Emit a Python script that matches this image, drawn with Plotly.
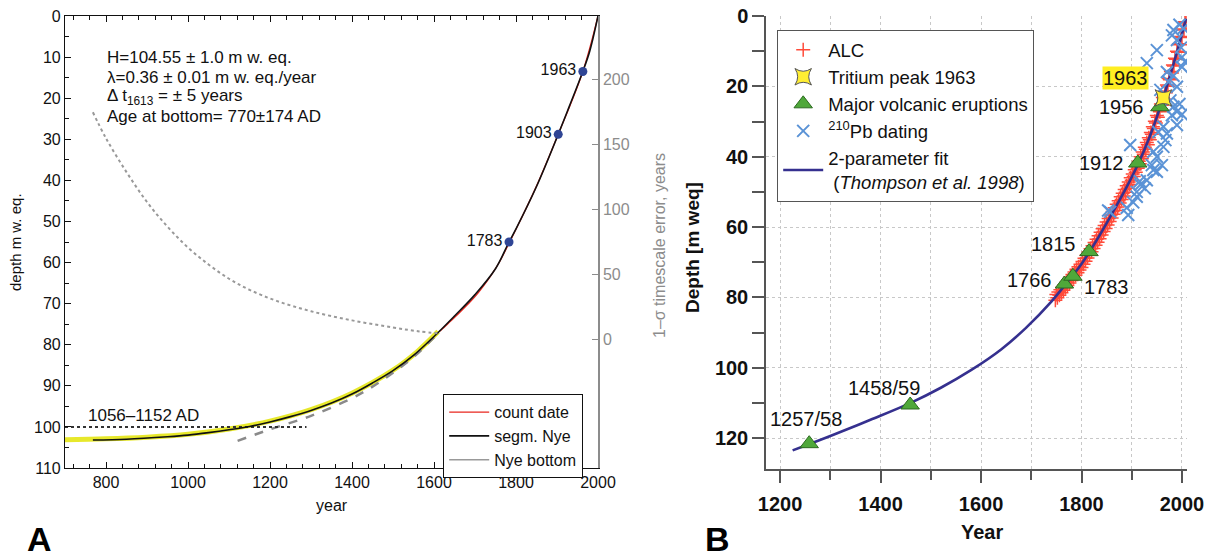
import plotly.graph_objects as go

# ---------------- Panel A data ----------------
nye_year = [768, 850, 950, 1000, 1050, 1100, 1150, 1200, 1250, 1300, 1350, 1400, 1450, 1500, 1550,
            1600, 1650, 1700, 1750, 1783, 1800, 1850, 1903, 1930, 1963, 1980, 2000]
nye_depth = [103.2, 103.0, 102.4, 102.0, 101.4, 100.7, 99.9, 98.8, 97.5, 96.0, 94.2, 92.0, 89.3, 86.3, 82.6,
             78.0, 73.0, 67.8, 61.5, 55.0, 51.8, 41.5, 28.8, 22.0, 13.5, 8.5, 0.0]

count_year = [1613, 1620, 1640, 1660, 1680, 1700, 1720, 1740, 1760, 1783, 1800, 1850, 1903, 1963, 2000]
count_depth = [76.8, 76.2, 74.3, 72.4, 70.4, 68.3, 65.8, 63.0, 59.8, 55.3, 51.9, 41.4, 28.8, 13.5, 0.0]

band_year = [700, 800, 900, 1000, 1100, 1200, 1300, 1400, 1500, 1560, 1610]
band_depth = [103.1, 102.9, 102.5, 101.8, 100.5, 98.6, 95.8, 91.8, 86.2, 81.6, 76.8]

bottom_year = [1121, 1200, 1300, 1400, 1450, 1500, 1550, 1610]
bottom_depth = [103.4, 100.6, 97.3, 93.0, 90.2, 86.8, 83.0, 77.2]

err_year = [768, 800, 850, 900, 950, 1000, 1050, 1100, 1150, 1216, 1300, 1400, 1500, 1564, 1613]
err_years = [175, 155, 129, 106, 87, 71, 58, 47, 38.5, 30, 22, 15, 9.5, 6.5, 5]

range_year = [700, 1289]
range_depth = [100, 100]

marker_year = [1963, 1903, 1783]
marker_depth = [13.5, 28.8, 55.0]
marker_label = ["1963", "1903", "1783"]

# ---------------- Panel B data ----------------
fit_year = [1225, 1300, 1380, 1460, 1520, 1580, 1640, 1690, 1740, 1770, 1800, 1830, 1860, 1890, 1912,
            1935, 1956, 1975, 1990, 2000, 2008]
fit_depth = [123.5, 119.4, 114.8, 110.0, 105.7, 100.7, 94.8, 88.6, 81.2, 76.0, 70.5, 63.8, 56.4, 48.6, 42.3,
             34.6, 26.2, 17.6, 10.3, 5.1, 0.8]

alc_year = [1748, 1750, 1752, 1754, 1756, 1758, 1760, 1762, 1764, 1766, 1768, 1770, 1772, 1774, 1776, 1778,
            1780, 1782, 1784, 1786, 1788, 1790, 1792, 1794, 1796, 1798, 1800, 1802, 1804, 1806, 1808, 1810,
            1812, 1814, 1816, 1818, 1820, 1822, 1824, 1826, 1828, 1830, 1832, 1834, 1836, 1838, 1840, 1842,
            1844, 1846, 1848, 1850, 1852, 1854, 1856, 1858, 1860, 1862, 1864, 1866, 1868, 1870, 1872, 1874,
            1876, 1878, 1880, 1882, 1884, 1886, 1888, 1890, 1892, 1894, 1896, 1898, 1900, 1902, 1904, 1906,
            1908, 1910, 1912, 1914, 1916, 1918, 1920, 1922, 1924, 1926, 1928, 1930, 1932, 1934, 1936, 1938,
            1940, 1942, 1944, 1946, 1948, 1950, 1952, 1954, 1956, 1958, 1960, 1962, 1964, 1966, 1968, 1970,
            1972, 1974, 1976, 1978, 1980, 1982, 1984, 1986, 1988, 1990, 1992, 1994, 1996, 1998, 2000, 2002,
            2004, 2006, 2008]
alc_depth = [80.8, 79.2, 80.1, 78.5, 79.4, 77.8, 78.7, 77.1, 78.0, 76.4, 77.3, 75.7, 76.6, 75.0, 75.9, 74.2,
             75.2, 73.5, 74.4, 72.8, 73.7, 72.0, 73.0, 71.3, 72.2, 70.6, 71.5, 69.8, 70.6, 68.9, 69.7, 68.0,
             68.8, 67.1, 67.9, 66.2, 67.0, 65.3, 66.1, 64.4, 65.2, 63.5, 64.3, 62.5, 63.3, 61.5, 62.3, 60.5,
             61.3, 59.6, 60.4, 58.6, 59.4, 57.6, 58.4, 56.6, 57.4, 55.6, 56.4, 54.5, 55.3, 53.5, 54.3, 52.5,
             53.2, 51.4, 52.2, 50.4, 51.2, 49.3, 50.1, 48.3, 49.0, 47.2, 47.9, 46.0, 46.7, 44.9, 45.6, 43.7,
             44.4, 42.6, 43.3, 41.3, 42.0, 40.0, 40.6, 38.7, 39.3, 37.3, 37.9, 36.0, 36.6, 34.6, 35.2, 33.1,
             33.6, 31.5, 32.0, 29.9, 30.4, 28.3, 28.8, 26.7, 27.2, 25.0, 25.4, 23.2, 23.6, 21.4, 21.8, 19.6,
             20.0, 17.8, 18.1, 15.8, 16.2, 13.9, 14.2, 12.0, 12.3, 10.0, 10.3, 7.9, 8.2, 5.8, 6.1, 3.7,
             4.0, 1.6, 1.8]

tritium_year = [1963]
tritium_depth = [23.3]

volc_year = [1258, 1459, 1766, 1783, 1815, 1912, 1956]
volc_depth = [121.6, 110.6, 76.2, 74.0, 67.0, 41.8, 25.8]

pb_year = [1980, 1990, 1983, 1950, 2000, 2006, 2000, 1930, 1970, 1983, 1973, 1990, 1957, 1977, 1983, 1990,
           1980, 1963, 1953, 1970, 1967, 1963, 1943, 1950, 1897, 1940, 1950, 1930, 1917, 1910, 1960, 1943,
           1916, 1926, 1910, 1903, 1893, 1890, 1857, 1853, 1995, 2003, 1998, 1995, 2000, 1990]
pb_depth = [5.5, 6.8, 4.0, 9.7, 11.7, 13.0, 14.5, 13.4, 15.9, 17.0, 18.7, 20.1, 21.0, 24.0, 25.8, 27.2,
            28.2, 31.5, 33.0, 33.4, 35.3, 37.2, 38.6, 40.0, 36.7, 42.4, 44.3, 46.7, 48.0, 50.0, 42.4, 43.8,
            47.0, 49.0, 51.4, 53.0, 56.6, 54.5, 55.7, 55.3, 2.5, 3.5, 9.0, 25.0, 28.0, 31.0]

volc_label = ["1257/58", "1458/59", "1766", "1783", "1815", "1912", "1956"]
volc_label_year = [1252, 1406, 1697, 1850, 1745, 1840, 1880]
volc_label_depth = [114.7, 105.8, 75.1, 77.1, 64.9, 41.8, 25.9]

FONT = "Liberation Sans, Arial, sans-serif"
GRAY = "#8c8c8c"
W, H = 1215, 558
OX, OY = 8, 8   # page body margin offset


def px(xs, ys):
    """screen pixel -> paper fraction"""
    return (xs - OX) / W, 1 - (ys - OY) / H


def dom_x(a, b):
    return [(a - OX) / W, (b - OX) / W]


def dom_y(top, bottom):
    return [1 - (bottom - OY) / H, 1 - (top - OY) / H]


fig = go.Figure()

# ---- Panel A traces ----
fig.add_trace(go.Scatter(x=band_year, y=band_depth, mode="lines", line=dict(color="rgba(228,230,20,0.9)", width=5, shape="spline"),
                         showlegend=False, xaxis="x", yaxis="y"))
fig.add_trace(go.Scatter(x=bottom_year, y=bottom_depth, mode="lines", line=dict(color="#8a8a8a", width=2.5, dash="dash", shape="spline"),
                         showlegend=False, xaxis="x", yaxis="y"))
fig.add_trace(go.Scatter(x=range_year, y=range_depth, mode="lines", line=dict(color="#333", width=2, dash="dot"),
                         showlegend=False, xaxis="x", yaxis="y"))
fig.add_trace(go.Scatter(x=err_year, y=err_years, mode="lines", line=dict(color="#999", width=2, dash="dot", shape="spline"),
                         showlegend=False, xaxis="x", yaxis="y2"))
fig.add_trace(go.Scatter(x=count_year, y=count_depth, mode="lines", name="count date",
                         line=dict(color="#e8261e", width=1.3, shape="spline"), legend="legend", xaxis="x", yaxis="y"))
fig.add_trace(go.Scatter(x=nye_year, y=nye_depth, mode="lines", name="segm. Nye",
                         line=dict(color="#111", width=1.6, shape="spline"), legend="legend", xaxis="x", yaxis="y"))
fig.add_trace(go.Scatter(x=[None], y=[None], mode="lines", name="Nye bottom",
                         line=dict(color="#999", width=1.6), legend="legend", xaxis="x", yaxis="y"))
fig.add_trace(go.Scatter(x=marker_year, y=marker_depth, mode="markers+text", text=marker_label,
                         textposition="middle left", textfont=dict(family=FONT, size=16, color="#111"),
                         marker=dict(color="#2f4595", size=9), showlegend=False, xaxis="x", yaxis="y"))

# ---- Panel B traces ----
fig.add_trace(go.Scatter(x=alc_year, y=alc_depth, mode="markers", name="ALC",
                         marker=dict(symbol="cross-thin", size=10, line=dict(color="#ff4b3a", width=1.5)),
                         legend="legend2", legendrank=1, xaxis="x3", yaxis="y3"))
fig.add_trace(go.Scatter(x=fit_year, y=fit_depth, mode="lines", name="2-parameter fit<br> (<i>Thompson et al. 1998</i>)",
                         line=dict(color="#35308f", width=2.6, shape="spline"), legend="legend2", xaxis="x3", yaxis="y3",
                         legendrank=5))
fig.add_trace(go.Scatter(x=pb_year, y=pb_depth, mode="markers", name="<sup>210</sup>Pb dating",
                         marker=dict(symbol="x-thin", size=12, line=dict(color="#5b93d6", width=2)),
                         legend="legend2", xaxis="x3", yaxis="y3", legendrank=4))
fig.add_trace(go.Scatter(x=volc_year, y=volc_depth, mode="markers", name="Major volcanic eruptions",
                         marker=dict(symbol="triangle-up", size=16, color="#4fa83a", line=dict(color="#2c6a20", width=1)),
                         legend="legend2", xaxis="x3", yaxis="y3", legendrank=3))
fig.add_trace(go.Scatter(x=tritium_year, y=tritium_depth, mode="markers", name="Tritium peak 1963",
                         marker=dict(symbol="star-square", size=15, color="#ffee33", line=dict(color="#555", width=1)),
                         legend="legend2", xaxis="x3", yaxis="y3", legendrank=2))

annotations = []


def paper_text(xs, ys, text, size, color="#111", xanchor="center", angle=0, **kw):
    ax_, ay_ = px(xs, ys)
    annotations.append(dict(xref="paper", yref="paper", x=ax_, y=ay_, xanchor=xanchor, yanchor="middle",
                            textangle=angle, showarrow=False, text=text,
                            font=dict(family=FONT, size=size, color=color), **kw))


# Panel A text block
paper_text(105, 57, "H=104.55 ± 1.0 m w. eq.", 17, xanchor="left")
paper_text(105, 77, "λ=0.36 ± 0.01 m w. eq./year", 17, xanchor="left")
paper_text(105, 97, "Δ t<sub>1613</sub> = ± 5 years", 17, xanchor="left")
paper_text(105, 116, "Age at bottom= 770±174 AD", 17, xanchor="left")
annotations.append(dict(xref="x", yref="y", x=751, y=97.3, xanchor="left", yanchor="middle", showarrow=False,
                        text="1056–1152 AD", font=dict(family=FONT, size=17, color="#111")))
paper_text(15, 242, "depth m w. eq.", 15, angle=-90)
paper_text(332, 505, "year", 16)
paper_text(660, 246, "1–σ timescale error, years", 16, color=GRAY, angle=-90)
paper_text(39, 539, "<b>A</b>", 34, color="#000")
paper_text(717, 539, "<b>B</b>", 34, color="#000")

# Panel B labels
for lab, lx, ly in zip(volc_label, volc_label_year, volc_label_depth):
    annotations.append(dict(xref="x3", yref="y3", x=lx, y=ly, xanchor="center", yanchor="middle", showarrow=False,
                            text=lab, font=dict(family=FONT, size=20, color="#111")))
annotations.append(dict(xref="x3", yref="y3", x=1887, y=17.6, xanchor="center", yanchor="middle", showarrow=False,
                        text="1963", bgcolor="#ffee22", borderpad=0, font=dict(family=FONT, size=20, color="#111")))
paper_text(692, 248, "<b>Depth [m weq]</b>", 19, angle=-90)
paper_text(982, 532, "<b>Year</b>", 20)

fig.update_layout(
    width=W, height=H,
    margin=dict(l=0, r=0, t=0, b=0, autoexpand=False),
    paper_bgcolor="white", plot_bgcolor="rgba(0,0,0,0)",
    xaxis=dict(domain=dom_x(65, 598), range=[700, 2000], anchor="y",
               tick0=0, dtick=200, ticks="inside", ticklen=6, tickwidth=1.2, tickcolor="#111",
               minor=dict(dtick=40, ticklen=3.5, ticks="inside", tickcolor="#111", tickwidth=1),
               showline=True, linecolor="#111", linewidth=1.2, mirror="ticks", showgrid=False, zeroline=False,
               ticklabeloverflow="allow", tickfont=dict(family=FONT, size=16, color="#111")),
    yaxis=dict(domain=dom_y(16, 468), range=[110, 0], anchor="x",
               tick0=0, dtick=10, ticks="inside", ticklen=6, tickwidth=1.2, tickcolor="#111",
               minor=dict(dtick=5, ticklen=3.5, ticks="inside", tickcolor="#111", tickwidth=1),
               showline=True, linecolor="#111", linewidth=1.2, showgrid=False, zeroline=False,
               ticklabeloverflow="allow", tickfont=dict(family=FONT, size=16, color="#111")),
    yaxis2=dict(overlaying="y", side="right", anchor="x", range=[-98.5, 249],
                tickvals=[0, 50, 100, 150, 200], ticks="inside", ticklen=6, tickcolor=GRAY,
                showline=True, linecolor=GRAY, linewidth=1.5, showgrid=False, zeroline=False,
                ticklabeloverflow="allow", tickfont=dict(family=FONT, size=16, color=GRAY)),
    xaxis3=dict(domain=dom_x(766, 1187), range=[1172, 2010], anchor="y3",
                tick0=0, dtick=200, ticks="outside", ticklen=12, tickwidth=1.5, tickcolor="#555",
                minor=dict(dtick=100, ticklen=9, ticks="outside", tickcolor="#555", tickwidth=1.5,
                           showgrid=True, gridcolor="#c8c8c8", griddash="dot", gridwidth=1),
                showline=True, linecolor="#555", linewidth=1.5, showgrid=True, gridcolor="#c8c8c8",
                griddash="dot", gridwidth=1, zeroline=False, ticklabelstandoff=4,
                ticklabeloverflow="allow", tickfont=dict(family=FONT, size=20, color="#111", weight="bold")),
    yaxis3=dict(domain=dom_y(16, 469), range=[128.8, 0], anchor="x3",
                tick0=0, dtick=20, ticks="outside", ticklen=12, tickwidth=1.5, tickcolor="#555",
                minor=dict(dtick=10, ticklen=12, ticks="outside", tickcolor="#555", tickwidth=1.5, showgrid=False),
                showline=True, linecolor="#555", linewidth=1.5, showgrid=True, gridcolor="#c8c8c8",
                griddash="dot", gridwidth=1, zeroline=False,
                ticklabeloverflow="allow", tickfont=dict(family=FONT, size=20, color="#111", weight="bold")),
    legend=dict(x=px(443, 394)[0], y=px(443, 394)[1], xanchor="left", yanchor="top", bgcolor="white",
                bordercolor="#111", borderwidth=1.2, font=dict(family=FONT, size=16, color="#111"),
                itemwidth=40, tracegroupgap=0),
    legend2=dict(x=px(777, 30)[0], y=px(777, 30)[1], xanchor="left", yanchor="top", bgcolor="white",
                 bordercolor="#555", borderwidth=1.2, font=dict(family=FONT, size=18.5, color="#111"),
                 itemwidth=40, tracegroupgap=0),
    annotations=annotations,
)

fig.write_html("out.html")
